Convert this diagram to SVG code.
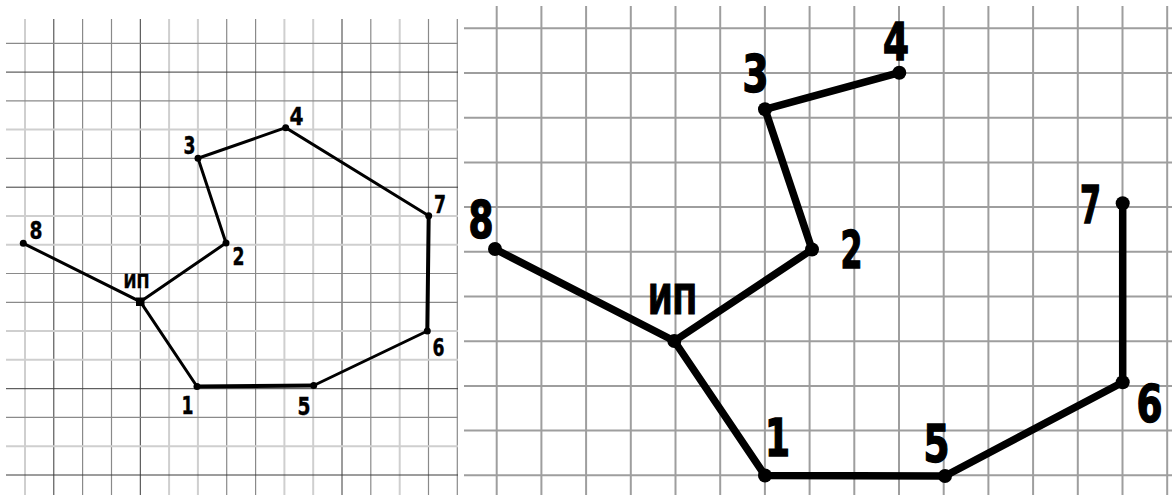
<svg xmlns="http://www.w3.org/2000/svg" width="1172" height="495" viewBox="0 0 1172 495">
<style>
.bg{fill:#fff}
.gd{stroke:#3a3a3a;stroke-width:1;fill:none}
.gm{stroke:#8a8a8a;stroke-width:1.2;fill:none}
.gl{stroke:#cfcfcf;stroke-width:2;fill:none}
.gr{stroke:#9e9e9e;stroke-width:2;fill:none}
.el{stroke:#000;stroke-width:3;stroke-linecap:round;fill:none}
.er{stroke:#000;stroke-width:7.5;stroke-linecap:round;fill:none}
.dl{fill:#000}
.t{font-family:'DejaVu Sans Condensed','DejaVu Sans','Liberation Sans',sans-serif;font-weight:bold;fill:#000}
.ts{font-size:25px;stroke:#000;stroke-width:0.4}
.tb{font-size:51px;stroke:#000;stroke-width:1.4}
</style>
<rect class="bg" x="0" y="0" width="1172" height="495"/>
<g id="grid-left">
<path class="gl" d="M25,19V495M169.1,19V495M197.9,19V495M284.4,19V495M313.2,19V495M399.7,19V495"/>
<path class="gm" d="M82.6,19V495M111.5,19V495M226.7,19V495M255.6,19V495M370.8,19V495M428.5,19V495M457.3,19V495"/>
<path class="gd" d="M53.8,19V495M140.3,19V495M342,19V495"/>
<path class="gl" d="M6,129.6H458M6,216H458M6,244.8H458M6,331H458M6,359.8H458M6,446.2H458"/>
<path class="gm" d="M6,43.3H458M6,100.9H458M6,158.4H458M6,273.5H458M6,302.3H458M6,417.4H458"/>
<path class="gd" d="M6,72.1H458M6,187.2H458M6,388.7H458M6,475H458"/>
</g>
<g id="grid-right">
<path class="gr" d="M496.7,6V495M541.4,6V495M586.1,6V495M630.8,6V495M675.5,6V495M720.2,6V495M764.9,6V495M809.6,6V495M854.3,6V495M899,6V495M943.7,6V495M988.4,6V495M1033.1,6V495M1077.8,6V495M1122.5,6V495M1167.2,6V495"/>
<path class="gr" d="M464,28.3H1172M464,73H1172M464,117.7H1172M464,162.4H1172M464,207.1H1172M464,251.8H1172M464,296.5H1172M464,341.2H1172M464,385.9H1172M464,430.6H1172M464,475.3H1172"/>
</g>
<g id="connectors">
<path class="el" d="M23.3,243.3L140.3,301.7L226,243L198,158.3L285.7,127.7L428.7,215.7"/>
<path class="el" style="stroke-width:4" d="M428.7,215.7L427.3,331"/>
<path class="el" d="M427.3,331L313.7,385.5"/>
<path class="el" style="stroke-width:4" d="M313.7,385.5L197,386.5"/>
<path class="el" d="M197,386.5L140.3,301.7"/>
<path class="er" d="M495,249L674.3,341L812,249.5L765,109.3L899.3,72.7"/>
<path class="er" d="M674.3,341L765,475.5L945,476L1122.7,382.3L1122.7,203.3"/>
</g>
<g id="L-IP"><rect class="dl" x="136" y="297.5" width="8.5" height="8.5"/><text class="t" x="123.5" y="288" font-size="19.5" stroke="#000" stroke-width="0.4" textLength="26" lengthAdjust="spacingAndGlyphs">ИП</text></g>
<g id="L-1"><circle class="dl" cx="197" cy="386.5" r="3.5"/><text class="t ts" x="181.5" y="414" textLength="12" lengthAdjust="spacingAndGlyphs">1</text></g>
<g id="L-2"><circle class="dl" cx="226" cy="243" r="3.5"/><text class="t ts" x="232.5" y="265" textLength="12" lengthAdjust="spacingAndGlyphs">2</text></g>
<g id="L-3"><circle class="dl" cx="198" cy="158.3" r="3.5"/><text class="t ts" x="183.5" y="154" textLength="12" lengthAdjust="spacingAndGlyphs">3</text></g>
<g id="L-4"><circle class="dl" cx="285.7" cy="127.7" r="3.5"/><text class="t ts" x="289.5" y="125" textLength="14" lengthAdjust="spacingAndGlyphs">4</text></g>
<g id="L-5"><circle class="dl" cx="313.7" cy="385.5" r="3.5"/><text class="t ts" x="297.5" y="415" textLength="13" lengthAdjust="spacingAndGlyphs">5</text></g>
<g id="L-6"><circle class="dl" cx="427.3" cy="331" r="3.5"/><text class="t ts" x="432.5" y="356" textLength="12" lengthAdjust="spacingAndGlyphs">6</text></g>
<g id="L-7"><circle class="dl" cx="428.7" cy="215.7" r="3.5"/><text class="t ts" x="434" y="213" textLength="12" lengthAdjust="spacingAndGlyphs">7</text></g>
<g id="L-8"><circle class="dl" cx="23.3" cy="243.3" r="3.5"/><text class="t ts" x="29.5" y="239" textLength="13" lengthAdjust="spacingAndGlyphs">8</text></g>
<g id="R-IP"><circle class="dl" cx="674.3" cy="341" r="7"/><text class="t" x="648" y="314" font-size="41" stroke="#000" stroke-width="1.2" textLength="49" lengthAdjust="spacingAndGlyphs">ИП</text></g>
<g id="R-1"><circle class="dl" cx="765" cy="475.5" r="7"/><text class="t tb" x="765" y="456" textLength="25" lengthAdjust="spacingAndGlyphs">1</text></g>
<g id="R-2"><circle class="dl" cx="812" cy="249.5" r="7"/><text class="t tb" x="840.5" y="268" textLength="22" lengthAdjust="spacingAndGlyphs">2</text></g>
<g id="R-3"><circle class="dl" cx="765" cy="109.3" r="7"/><text class="t tb" x="742.5" y="92" textLength="26" lengthAdjust="spacingAndGlyphs">3</text></g>
<g id="R-4"><circle class="dl" cx="899.3" cy="72.7" r="7"/><text class="t tb" x="883" y="60" textLength="26" lengthAdjust="spacingAndGlyphs">4</text></g>
<g id="R-5"><circle class="dl" cx="945" cy="476" r="7"/><text class="t tb" x="923.5" y="462" textLength="26" lengthAdjust="spacingAndGlyphs">5</text></g>
<g id="R-6"><circle class="dl" cx="1122.7" cy="382.3" r="7"/><text class="t tb" x="1136.5" y="422" textLength="26" lengthAdjust="spacingAndGlyphs">6</text></g>
<g id="R-7"><circle class="dl" cx="1122.7" cy="203.3" r="7"/><text class="t tb" x="1080" y="223" textLength="21" lengthAdjust="spacingAndGlyphs">7</text></g>
<g id="R-8"><circle class="dl" cx="495" cy="249" r="7"/><text class="t tb" x="468.5" y="238" textLength="25" lengthAdjust="spacingAndGlyphs">8</text></g>
</svg>
